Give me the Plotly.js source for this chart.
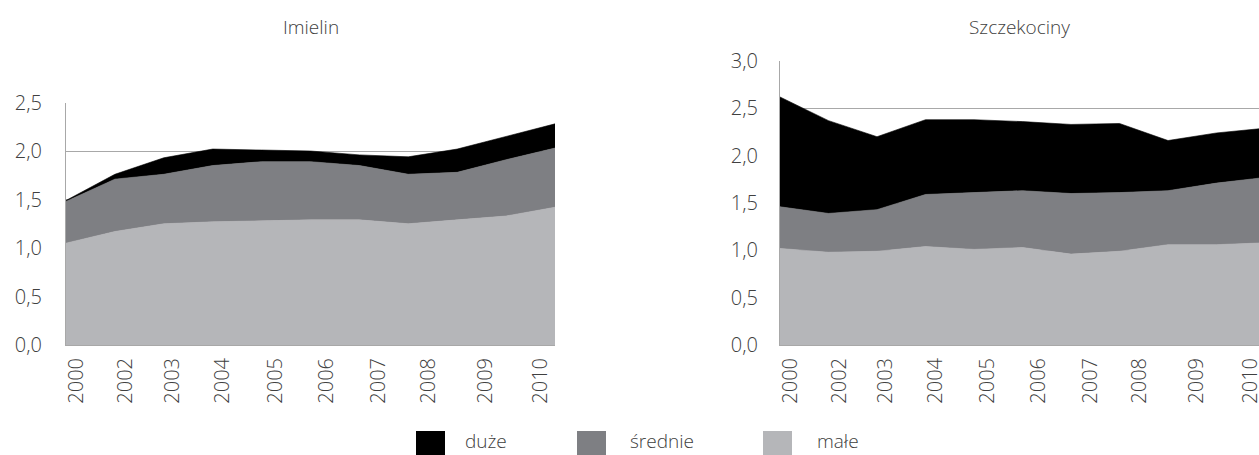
<!DOCTYPE html>
<html>
<head>
<meta charset="utf-8">
<script src="https://cdn.plot.ly/plotly-3.0.1.min.js"></script>
<style>
html,body{margin:0;padding:0;overflow:hidden;background:#fff;}
#chart{width:1275px;height:455px;}
</style>
</head>
<body>
<div id="chart"></div>
<script>
// ---- data ----
var points = [0,1,2,3,4,5,6,7,8,9,10];
var tickLabels = ["2000","2002","2003","2004","2005","2006","2007","2008","2009","2010"];
var seriesNames = ["duże","średnie","małe"];
var titles = ["Imielin","Szczekociny"];

var imielinMale    = [1.05,1.17,1.25,1.27,1.28,1.29,1.29,1.25,1.29,1.33,1.42];
var imielinSrednie = [0.43,0.54,0.51,0.58,0.61,0.60,0.56,0.51,0.49,0.58,0.61];
var imielinDuze    = [0.01,0.05,0.17,0.17,0.12,0.11,0.11,0.18,0.24,0.24,0.25];

var szczMale    = [1.02,0.98,0.99,1.04,1.01,1.03,0.96,0.99,1.06,1.06,1.08];
var szczSrednie = [0.44,0.41,0.44,0.55,0.60,0.60,0.64,0.62,0.57,0.65,0.69];
var szczDuze    = [1.16,0.98,0.77,0.79,0.77,0.73,0.73,0.73,0.53,0.53,0.52];

// ---- styles / positions ----
var W = 1275, H = 455;
var colors = {"duże":"#000000","średnie":"#7e7f83","małe":"#b5b6b9"};
var tickPos = [0.22,1.22,2.18,3.2,4.28,5.33,6.4,7.41,8.58,9.71];
var FONT = "Open Sans, Noto Sans, sans-serif";
var TXT = "#404040";
function fx(px){return px/W;}
function fy(px){return 1-px/H;}

function mk(name, y, xa, ya){
  return {x: points, y: y, name: name, type:'scatter', mode:'lines',
    stackgroup: xa, fill:'tonexty', fillcolor: colors[name],
    line:{width:0.6, color: colors[name], shape:'linear'},
    xaxis: xa, yaxis: ya, hoverinfo:'skip', showlegend:false};
}

var data = [
  mk("małe", imielinMale, 'x', 'y'),
  mk("średnie", imielinSrednie, 'x', 'y'),
  mk("duże", imielinDuze, 'x', 'y'),
  mk("małe", szczMale, 'x2', 'y2'),
  mk("średnie", szczSrednie, 'x2', 'y2'),
  mk("duże", szczDuze, 'x2', 'y2')
];

function xaxis(d){
  return {domain:d, range:[0,10], tickmode:'array', tickvals:tickPos, ticktext:tickLabels,
    tickangle:-90, showgrid:false, zeroline:false, showline:true, linecolor:'#a8a8a8', linewidth:1,
    ticks:'', ticklabelstandoff:4, tickfont:{family:FONT, size:20, color:TXT, weight:300}, fixedrange:true};
}
function yaxis(d, r, so){
  return {domain:d, range:r, dtick:0.5, tick0:0, tickformat:'.1f', showgrid:true, gridcolor:'#a8a8a8',
    gridwidth:1, zeroline:false, showline:true, linecolor:'#a8a8a8', linewidth:1, ticks:'',
    ticklabelstandoff:so, tickfont:{family:FONT, size:20, color:TXT, weight:300}, fixedrange:true};
}

var shapes = [], annotations = [];
var legX = [416, 577, 763], legTX = [463, 628, 815];
seriesNames.forEach(function(n,i){
  shapes.push({type:'rect', xref:'paper', yref:'paper', x0:fx(legX[i]), x1:fx(legX[i]+29),
    y0:fy(460), y1:fy(431), fillcolor:colors[n], line:{width:0}});
  annotations.push({xref:'paper', yref:'paper', x:fx(legTX[i]), y:fy(441), xanchor:'left', yanchor:'middle',
    text:n, showarrow:false, font:{family:FONT, size:19, color:TXT, weight:300}});
});
annotations.push({xref:'paper', yref:'paper', x:fx(311), y:fy(27), xanchor:'center', yanchor:'middle',
  text:titles[0], showarrow:false, font:{family:FONT, size:19, color:TXT, weight:300}});
annotations.push({xref:'paper', yref:'paper', x:fx(1019), y:fy(27), xanchor:'center', yanchor:'middle',
  text:titles[1], showarrow:false, font:{family:FONT, size:19, color:TXT, weight:300}});

var layout = {
  width: W, height: H, margin:{l:0,r:0,t:0,b:0},
  paper_bgcolor:'#fff', plot_bgcolor:'#fff', separators:',.',
  showlegend:false,
  xaxis: xaxis([fx(66), fx(555)]),
  yaxis: yaxis([fy(345), fy(102.5)], [0,2.5], 19),
  xaxis2: Object.assign(xaxis([fx(780), fx(1265)]), {anchor:'y2'}),
  yaxis2: Object.assign(yaxis([fy(345), fy(61)], [0,3.0], 17), {anchor:'x2'}),
  shapes: shapes, annotations: annotations
};
layout.xaxis.anchor = 'y';
layout.yaxis.anchor = 'x';

Plotly.newPlot('chart', data, layout, {displayModeBar:false, staticPlot:true});
</script>
</body>
</html>
